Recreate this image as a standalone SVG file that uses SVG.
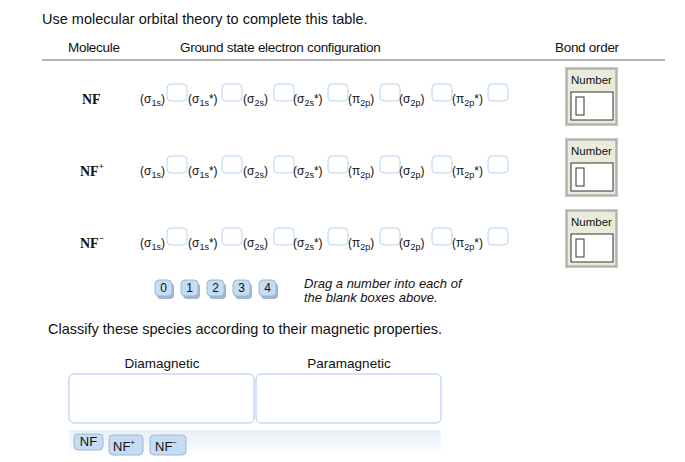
<svg xmlns="http://www.w3.org/2000/svg" width="685" height="462" viewBox="0 0 685 462">
<defs>
<style>
text{font-family:"Liberation Sans",Arial,sans-serif;fill:#111}
.t{font-size:14.5px}
.h{font-size:13.5px;letter-spacing:-0.3px}
.m{font-family:"Liberation Serif",serif;font-weight:bold;font-size:14px}
.o{font-size:12px}
.s{font-size:9px}
.blank{fill:#fff;stroke:#b8d4f0;stroke-width:1}
.tile{fill:#c5dcf2;stroke:#9ab8d6}
.shadow{fill:#9fb6cc}
.drop{fill:#fff;stroke:#a9c9ee}
</style>
<linearGradient id="tray" x1="0" y1="0" x2="0" y2="1"><stop offset="0" stop-color="#e9f0f8"/><stop offset="1" stop-color="#fff"/></linearGradient>
<g id="orb">
<text class="o" x="0" y="0">(σ<tspan class="s" dy="3">1s</tspan><tspan dy="-3">)</tspan></text>
<rect class="blank" x="27" y="-19" width="20" height="17" rx="4"/>
<text class="o" x="48" y="0">(σ<tspan class="s" dy="3">1s</tspan><tspan dy="-3">*)</tspan></text>
<rect class="blank" x="82" y="-19" width="20" height="17" rx="4"/>
<text class="o" x="103" y="0">(σ<tspan class="s" dy="3">2s</tspan><tspan dy="-3">)</tspan></text>
<rect class="blank" x="134" y="-19" width="20" height="17" rx="4"/>
<text class="o" x="153" y="0">(σ<tspan class="s" dy="3">2s</tspan><tspan dy="-3">*)</tspan></text>
<rect class="blank" x="188" y="-19" width="20" height="17" rx="4"/>
<text class="o" x="208" y="0">(π<tspan class="s" dy="3">2p</tspan><tspan dy="-3">)</tspan></text>
<rect class="blank" x="240" y="-19" width="20" height="17" rx="4"/>
<text class="o" x="259" y="0">(σ<tspan class="s" dy="3">2p</tspan><tspan dy="-3">)</tspan></text>
<rect class="blank" x="292" y="-19" width="20" height="17" rx="4"/>
<text class="o" x="312" y="0">(π<tspan class="s" dy="3">2p</tspan><tspan dy="-3">*)</tspan></text>
<rect class="blank" x="348" y="-19" width="20" height="17" rx="4"/>
</g>
<g id="num">
<rect x="0" y="0" width="53" height="59" fill="#c8c8c0"/>
<rect x="2" y="2" width="49" height="55" fill="#ebebdc" stroke="#999" stroke-width="1"/>
<text x="26.5" y="17" font-size="11.5" text-anchor="middle">Number</text>
<rect x="6" y="25" width="42" height="28" fill="#fff" stroke="#333"/>
<rect x="11" y="30" width="8" height="18" fill="#fff" stroke="#333"/>
</g>
</defs>
<rect width="685" height="462" fill="#fff"/>
<text class="t" x="42" y="24">Use molecular orbital theory to complete this table.</text>
<text class="h" x="68" y="52">Molecule</text>
<text class="h" x="180" y="52">Ground state electron configuration</text>
<text class="h" x="555" y="52">Bond order</text>
<line x1="42" y1="60" x2="665" y2="60" stroke="#666"/>
<g id="row-NF"><text class="m" x="82" y="104">NF</text><use href="#orb" x="140" y="103"/><use href="#num" x="565" y="67"/></g>
<g id="row-NFp"><text class="m" x="80" y="176">NF<tspan font-size="9" dy="-7">+</tspan></text><use href="#orb" x="140" y="175"/><use href="#num" x="565" y="138"/></g>
<g id="row-NFm"><text class="m" x="80" y="248">NF<tspan font-size="9" dy="-7">−</tspan></text><use href="#orb" x="140" y="247"/><use href="#num" x="565" y="209"/></g>
<g id="tiles">
<g><rect class="shadow" x="157" y="283" width="17" height="16" rx="4"/><rect class="tile" x="155" y="280" width="17" height="16" rx="4"/><text x="163.5" y="292" text-anchor="middle" font-size="12">0</text></g>
<g><rect class="shadow" x="183" y="283" width="17" height="16" rx="4"/><rect class="tile" x="181" y="280" width="17" height="16" rx="4"/><text x="189.5" y="292" text-anchor="middle" font-size="12">1</text></g>
<g><rect class="shadow" x="209" y="283" width="17" height="16" rx="4"/><rect class="tile" x="207" y="280" width="17" height="16" rx="4"/><text x="215.5" y="292" text-anchor="middle" font-size="12">2</text></g>
<g><rect class="shadow" x="235" y="283" width="17" height="16" rx="4"/><rect class="tile" x="233" y="280" width="17" height="16" rx="4"/><text x="241.5" y="292" text-anchor="middle" font-size="12">3</text></g>
<g><rect class="shadow" x="261" y="283" width="17" height="16" rx="4"/><rect class="tile" x="259" y="280" width="17" height="16" rx="4"/><text x="267.5" y="292" text-anchor="middle" font-size="12">4</text></g>
</g>
<text x="304" y="288" font-size="13" font-style="italic">Drag a number into each of</text>
<text x="304" y="302" font-size="13" font-style="italic">the blank boxes above.</text>
<text class="t" x="48" y="334">Classify these species according to their magnetic properties.</text>
<text x="162" y="368" font-size="13.5" text-anchor="middle">Diamagnetic</text>
<text x="349" y="368" font-size="13.5" text-anchor="middle">Paramagnetic</text>
<g id="dia"><rect class="drop" x="69" y="374" width="185" height="49" rx="5"/></g>
<g id="para"><rect class="drop" x="256" y="374" width="185" height="49" rx="5"/></g>
<rect x="69" y="430" width="372" height="26" fill="url(#tray)"/>
<g id="sp-NF"><rect class="tile" x="74" y="434" width="29" height="16" rx="4" stroke="none"/><text x="88.5" y="446" font-size="13" text-anchor="middle">NF</text></g>
<g id="sp-NFp"><rect class="tile" x="109" y="435" width="34" height="20" rx="4" stroke="none"/><text x="113" y="451" font-size="13">NF<tspan font-size="8" dy="-6">+</tspan></text></g>
<g id="sp-NFm"><rect class="tile" x="150" y="435" width="36" height="20" rx="4" stroke="none"/><text x="155" y="451" font-size="13">NF<tspan font-size="8" dy="-6">−</tspan></text></g>
</svg>
